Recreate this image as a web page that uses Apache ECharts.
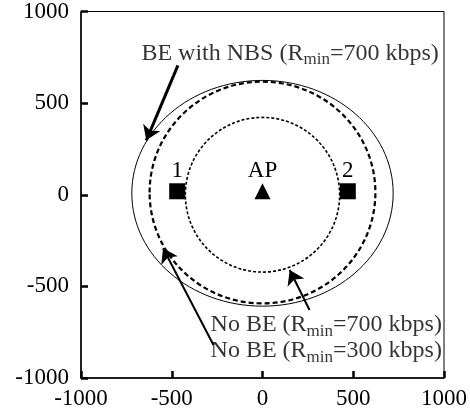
<!DOCTYPE html>
<html>
<head>
<meta charset="utf-8">
<script src="https://cdn.jsdelivr.net/npm/echarts@6/dist/echarts.min.js"></script>
<style>
  html, body { margin: 0; padding: 0; background: #fff; }
  #chart { width: 470px; height: 418px; }
</style>
</head>
<body>
<div id="chart"></div>
<script>
// coverage ranges: centre x, centre y, radius x, radius y
var rangeNames = ['BE with NBS (Rmin=700 kbps)', 'No BE (Rmin=300 kbps)', 'No BE (Rmin=700 kbps)'];
var rangeCx = [0, 0, 0];
var rangeCy = [8, 12, 0];
var rangeRx = [720, 622, 425];
var rangeRy = [616, 605, 422];

// nodes
var nodeNames = ['1', 'AP', '2'];
var nodeX = [-470, 0, 470];
var nodeY = [19, 19, 19];
var nodeSymbols = ['rect', 'triangle', 'rect'];

// annotations: text start point and arrow from/to
var noteText = [
  ['BE with NBS (R', 'min', '=700 kbps)'],
  ['No BE (R', 'min', '=700 kbps)'],
  ['No BE (R', 'min', '=300 kbps)']
];
var noteX = [-667, -286, -286];
var noteY = [771, -711, -853];
var arrowFrom = [[-466, 706], [259, -629], [-270, -820]];
var arrowTo = [[-640, 297], [150, -411], [-548, -292]];
var arrowWidth = [3, 2, 2];

var font = 'Liberation Serif';
var myChart = echarts.init(document.getElementById('chart'));

function ellipseSeries(i, width, dash) {
  return {
    type: 'custom',
    name: rangeNames[i],
    clip: false,
    silent: true,
    renderItem: function (params, api) {
      var c = api.coord([api.value(0), api.value(1)]);
      var s = api.size([api.value(2), api.value(3)]);
      return {
        type: 'ellipse',
        shape: { cx: c[0], cy: c[1], rx: s[0], ry: s[1] },
        style: { fill: 'none', stroke: '#000', lineWidth: width, lineDash: dash }
      };
    },
    data: [[rangeCx[i], rangeCy[i], rangeRx[i], rangeRy[i]]]
  };
}

function makeAxis(margin) {
  return {
    type: 'value',
    min: -1000,
    max: 1000,
    interval: 500,
    axisLine: { show: true, onZero: false, lineStyle: { color: '#000', width: 1.5 } },
    axisTick: { show: true, inside: true, length: 7, lineStyle: { color: '#000', width: 2.5 } },
    axisLabel: {
      color: '#000', fontFamily: font, fontSize: 23, margin: margin,
      formatter: function (v) { return String(v); }
    },
    splitLine: { show: false }
  };
}

option = {
  animation: false,
  grid: {
    left: 81, right: 22, top: 11, bottom: 40,
    show: true, borderColor: '#000', borderWidth: 1
  },
  xAxis: makeAxis(9),
  yAxis: makeAxis(12),
  series: [
    ellipseSeries(0, 1, null),
    ellipseSeries(1, 2.2, [5, 3]),
    ellipseSeries(2, 1.6, [3, 2]),
    {
      type: 'scatter',
      symbolSize: 16,
      itemStyle: { color: '#000', opacity: 1 },
      label: {
        show: true,
        position: 'top',
        distance: 1,
        color: '#000',
        fontFamily: font,
        fontSize: 23,
        formatter: function (p) { return nodeNames[p.dataIndex]; }
      },
      data: nodeX.map(function (x, i) {
        return { value: [x, nodeY[i]], symbol: nodeSymbols[i] };
      })
    },
    {
      type: 'lines',
      coordinateSystem: 'cartesian2d',
      symbol: ['none', 'arrow'],
      symbolSize: 14,
      silent: true,
      lineStyle: { color: '#000', opacity: 1 },
      data: arrowFrom.map(function (a, i) {
        return { coords: [a, arrowTo[i]], lineStyle: { width: arrowWidth[i] } };
      })
    },
    {
      type: 'scatter',
      symbolSize: 0,
      silent: true,
      label: {
        show: true,
        position: 'right',
        distance: 0,
        color: '#000',
        formatter: function (p) {
          var t = noteText[p.dataIndex];
          return '{n|' + t[0] + '}{s|' + t[1] + '}{n|' + t[2] + '}';
        },
        rich: {
          n: { fontFamily: font, fontSize: 24, lineHeight: 30, color: '#000' },
          s: { fontFamily: font, fontSize: 17, lineHeight: 17, verticalAlign: 'bottom', color: '#000' }
        }
      },
      data: noteX.map(function (x, i) { return [x, noteY[i]]; })
    }
  ]
};

myChart.setOption(option);
</script>
</body>
</html>
